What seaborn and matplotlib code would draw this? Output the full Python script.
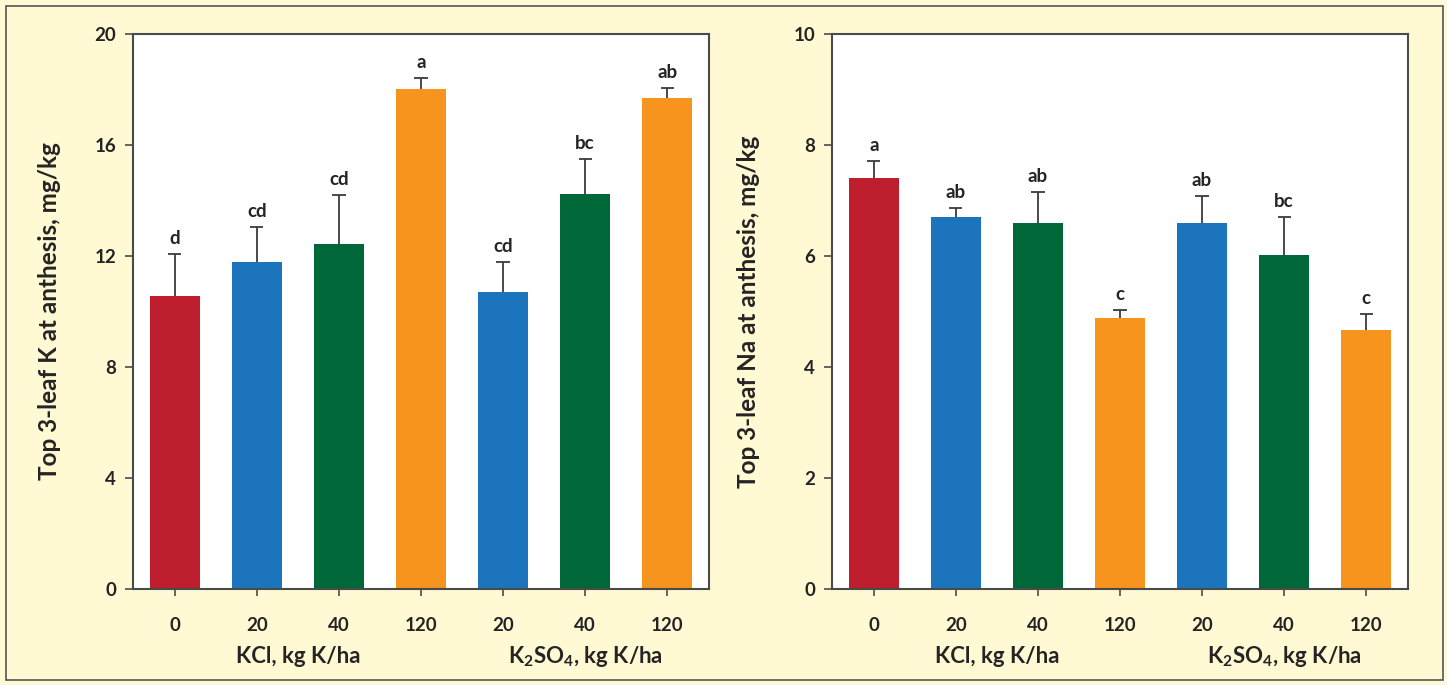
import matplotlib
matplotlib.use("Agg")
import matplotlib.pyplot as plt
import matplotlib.patches as mpatches
import seaborn as sns
import pandas as pd
import numpy as np

# ---- data ----
positions = [0, 1, 2, 3, 4, 5, 6]
tick_labels = ["0", "20", "40", "120", "20", "40", "120"]
groups = ["KCl", "KCl", "KCl", "KCl", "K2SO4", "K2SO4", "K2SO4"]
bar_colors = ["#BE1E2D", "#1C75BC", "#006838", "#F7941D", "#1C75BC", "#006838", "#F7941D"]

k_values = [10.57, 11.78, 12.42, 18.03, 10.72, 14.22, 17.68]
k_errors = [1.52, 1.27, 1.78, 0.38, 1.08, 1.28, 0.38]
k_letters = ["d", "cd", "cd", "a", "cd", "bc", "ab"]

na_values = [7.40, 6.71, 6.60, 4.88, 6.60, 6.02, 4.66]
na_errors = [0.32, 0.16, 0.55, 0.14, 0.49, 0.69, 0.29]
na_letters = ["a", "ab", "ab", "c", "ab", "bc", "c"]

group_labels = ["KCl, kg K/ha", r"K$_\mathbf{2}$SO$_\mathbf{4}$, kg K/ha"]
group_centers = [1.5, 5.0]

sns.set_theme(style="white")
plt.rcParams["font.family"] = ["Lato", "DejaVu Sans"]
plt.rcParams["font.weight"] = "bold"
plt.rcParams["mathtext.fontset"] = "custom"
plt.rcParams["mathtext.rm"] = "Lato:bold"
plt.rcParams["mathtext.bf"] = "Lato:bold"
plt.rcParams["mathtext.default"] = "rm"

TXT = "#262324"
SPINE = "#4a4a4a"
BG = "#FFFAD4"
ECOL = "#3a3a3a"

W, H = 1447, 685
fig = plt.figure(figsize=(W / 100, H / 100), dpi=100, facecolor=BG)

# figure border
fig.patches.append(mpatches.Rectangle((6 / W, 1 - 680 / H), (1443 - 6) / W, (680 - 6) / H,
                                      transform=fig.transFigure, fill=False,
                                      edgecolor="#555555", linewidth=1.2))

ax1 = fig.add_axes([133 / W, 1 - 589 / H, (709 - 133) / W, (589 - 34) / H])
ax2 = fig.add_axes([832 / W, 1 - 589 / H, (1408 - 832) / W, (589 - 34) / H])


def panel(ax, values, errors, letters, ymax, step, ylabel):
    df = pd.DataFrame({"pos": positions, "val": values, "grp": groups})
    sns.barplot(data=df, x="pos", y="val", hue="pos", palette=bar_colors,
                legend=False, width=0.61, ax=ax, saturation=1, errorbar=None,
                linewidth=0, zorder=2)
    tops = np.array(values) + np.array(errors)
    # upper-only error stems
    ax.errorbar(positions, values, yerr=[np.zeros(len(values)), errors],
                fmt="none", ecolor=ECOL, elinewidth=1.3, capsize=0, zorder=1)
    # caps at the upper end only
    ax.errorbar(positions, tops, xerr=0.08, fmt="none", ecolor=ECOL,
                elinewidth=1.3, capsize=0, zorder=1)
    for x, t_, lab in zip(positions, tops, letters):
        ax.annotate(lab, (x, t_), xytext=(0, 5), textcoords="offset points",
                    ha="center", va="bottom", fontsize=13.5, fontweight="bold",
                    color=TXT)
    ax.set_facecolor("white")
    ax.set_xlim(-0.51, 6.51)
    ax.set_ylim(0, ymax)
    ax.set_yticks(np.arange(0, ymax + 0.01, step))
    ax.set_yticklabels([f"{int(t)}" for t in np.arange(0, ymax + 0.01, step)])
    ax.set_xticks(positions)
    ax.set_xticklabels(tick_labels)
    ax.set_xlabel("")
    ax.set_ylabel(ylabel, fontsize=17.5, fontweight="bold", color=TXT, labelpad=24)
    for s in ax.spines.values():
        s.set_visible(True)
        s.set_color(SPINE)
        s.set_linewidth(1.5)
        s.set_zorder(3)
    ax.tick_params(axis="y", which="both", left=True, direction="out", length=6,
                   width=1.2, color=SPINE, pad=6, labelsize=13.5, labelcolor=TXT)
    ax.tick_params(axis="x", which="both", bottom=True, direction="out", length=5,
                   width=1.2, color=SPINE, pad=15, labelsize=13.5, labelcolor=TXT)
    for lab in ax.get_xticklabels() + ax.get_yticklabels():
        lab.set_fontweight("bold")
    for gx, gl in zip(group_centers, group_labels):
        ax.annotate(gl, (gx, -0.122), xycoords=("data", "axes fraction"),
                    ha="center", va="center", fontsize=16, fontweight="bold",
                    color=TXT, annotation_clip=False)


panel(ax1, k_values, k_errors, k_letters, 20, 4, "Top 3-leaf K at anthesis, mg/kg")
panel(ax2, na_values, na_errors, na_letters, 10, 2, "Top 3-leaf Na at anthesis, mg/kg")

fig.savefig("out.png", dpi=100, facecolor=BG)
